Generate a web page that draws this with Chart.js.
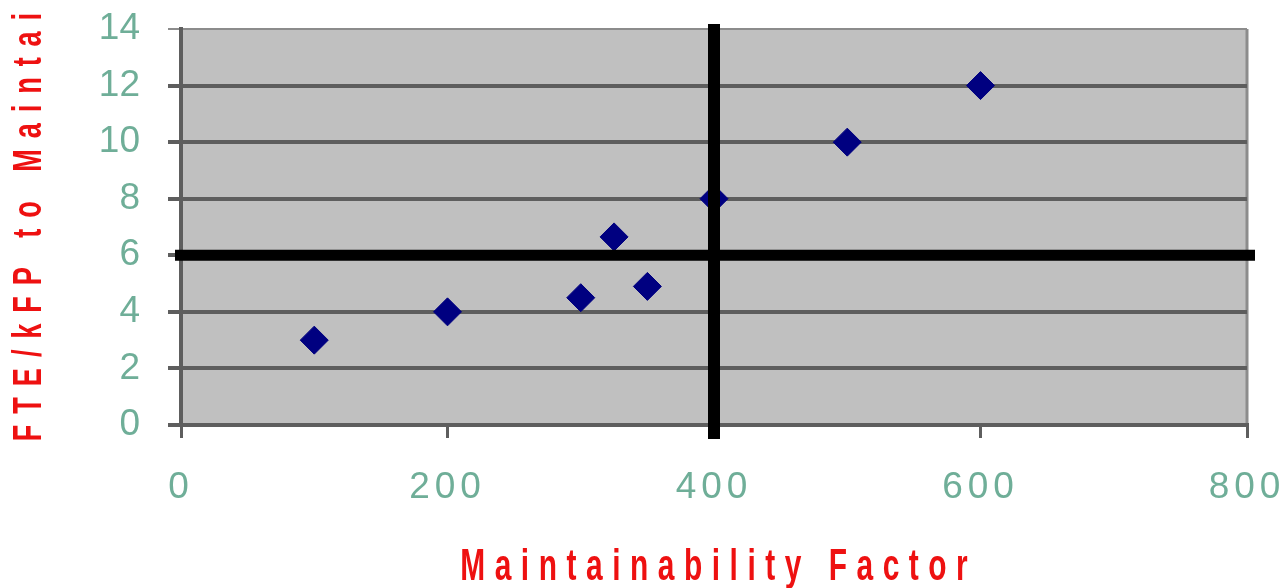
<!DOCTYPE html>
<html>
<head>
<meta charset="utf-8">
<script src="https://cdn.jsdelivr.net/npm/chart.js@4/dist/chart.umd.min.js"></script>
<style>
  html, body { margin: 0; padding: 0; background: #fff; }
  #wrap { width: 1288px; height: 588px; position: relative; }
</style>
</head>
<body>
<div id="wrap"><canvas id="grafica"></canvas></div>
<script>
// ─── DATOS ────────────────────────────────────────────────────────────────
const factorX = [100, 200, 300, 325, 350, 400, 500, 600];
const fteY    = [3, 4, 4.5, 6.65, 4.9, 8, 10, 12];

const xTitle = 'Maintainability Factor';
const yTitle = 'FTE/kFP to Maintai';

const refX = 400;   // línea vertical gruesa
const refY = 6;     // línea horizontal gruesa

const TITLE_FONT = "'Liberation Sans', Arial, sans-serif";
const TICK_FONT  = "'Liberation Sans', Arial, sans-serif";

// espaciado de letras y compresión horizontal de los títulos
const spacing = {
  x: { ticks: '5px', title: 14, squeeze: 0.68 },
  y: { ticks: '0px', title: 16, squeeze: 0.68 }
};

// ─── PLUGINS ──────────────────────────────────────────────────────────────

const fondo = {
  id: 'fondo',
  beforeDraw(chart) {
    const { ctx, chartArea: a } = chart;
    ctx.save();
    ctx.fillStyle = '#c0c0c0';
    ctx.fillRect(a.left, a.top, a.right - a.left, a.bottom - a.top);
    ctx.strokeStyle = '#8c8c8c';
    ctx.lineWidth = 3;
    ctx.beginPath();
    ctx.moveTo(a.right, a.top);
    ctx.lineTo(a.right, a.bottom);
    ctx.stroke();
    ctx.restore();

    for (const s of Object.values(chart.scales)) {
      if (s._spaced || !spacing[s.id]) continue;
      s._spaced = true;
      const sp = spacing[s.id];
      const dl = s.drawLabels, dt = s.drawTitle;
      s.drawLabels = function (area) {
        const c = this.ctx, old = c.letterSpacing;
        c.letterSpacing = sp.ticks;
        dl.call(this, area);
        c.letterSpacing = old;
      };
      s.drawTitle = function () {
        const c = this.ctx;
        const k = sp.squeeze;
        const shift = sp.title * k / 2;
        c.save();
        c.letterSpacing = sp.title + 'px';
        if (this.isHorizontal()) {
          const cx = (this.left + this.right) / 2;
          c.translate(cx + shift, 0);
          c.scale(k, 1);
          c.translate(-cx, 0);
        } else {
          const cy = (this.top + this.bottom) / 2;
          c.translate(0, cy - shift);
          c.scale(1, k);
          c.translate(0, -cy);
        }
        dt.call(this);
        c.restore();
      };
    }
  }
};

const lineasRef = {
  id: 'lineasRef',
  afterDatasetsDraw(chart) {
    const { ctx, chartArea: a, scales } = chart;
    const px = scales.x.getPixelForValue(refX);
    const py = scales.y.getPixelForValue(refY);
    ctx.save();
    ctx.strokeStyle = '#000';
    ctx.lineWidth = 12;
    ctx.beginPath();
    ctx.moveTo(px, a.top - 5);
    ctx.lineTo(px, a.bottom + 14);
    ctx.stroke();
    ctx.lineWidth = 11;
    ctx.beginPath();
    ctx.moveTo(a.left - 6, py);
    ctx.lineTo(a.right + 8, py);
    ctx.stroke();
    ctx.restore();
  }
};

// ─── GRÁFICA ──────────────────────────────────────────────────────────────

const puntos = factorX.map((x, i) => ({ x, y: fteY[i] }));

new Chart(document.getElementById('grafica'), {
  type: 'scatter',
  data: {
    datasets: [{
      data: puntos,
      pointStyle: 'rectRot',
      pointRadius: 14,
      backgroundColor: '#000080',
      borderColor: '#000080',
      borderWidth: 1
    }]
  },
  options: {
    responsive: true,
    maintainAspectRatio: false,
    animation: false,
    layout: { padding: { left: 0, top: 29, right: 41, bottom: 0 } },
    plugins: {
      legend: { display: false },
      tooltip: { enabled: false }
    },
    scales: {
      x: {
        type: 'linear',
        min: 0, max: 800,
        afterFit: s => { s.height = 163; s.paddingLeft = 0; s.paddingRight = 0; },
        ticks: {
          stepSize: 200,
          color: '#6fae98',
          font: { family: TICK_FONT, size: 37 },
          padding: 28,
          maxRotation: 0
        },
        grid: {
          drawOnChartArea: false,
          drawTicks: true,
          tickLength: 13,
          color: '#5e5e5e',
          lineWidth: 3
        },
        border: { display: true, color: '#5e5e5e', width: 4 },
        title: {
          display: true,
          text: xTitle,
          color: '#ee1111',
          font: { family: TITLE_FONT, size: 44, weight: 'bold', lineHeight: 0.9 },
          padding: { top: 0, bottom: 0 }
        }
      },
      y: {
        min: 0, max: 14,
        afterFit: s => { s.width = 181; s.paddingTop = 0; s.paddingBottom = 0; },
        ticks: {
          stepSize: 2,
          color: '#6fae98',
          font: { family: TICK_FONT, size: 37 },
          padding: 28
        },
        grid: {
          tickLength: 13,
          color: c => c.tick && c.tick.value === 14 ? '#8c8c8c' : '#5e5e5e',
          lineWidth: c => c.tick && c.tick.value === 14 ? 2 : 4
        },
        border: { display: true, color: '#5e5e5e', width: 4 },
        title: {
          display: true,
          text: yTitle,
          color: '#ee1111',
          font: { family: TITLE_FONT, size: 40, weight: 'bold' },
          padding: { top: 6, bottom: 0 }
        }
      }
    }
  },
  plugins: [fondo, lineasRef]
});
</script>
</body>
</html>
